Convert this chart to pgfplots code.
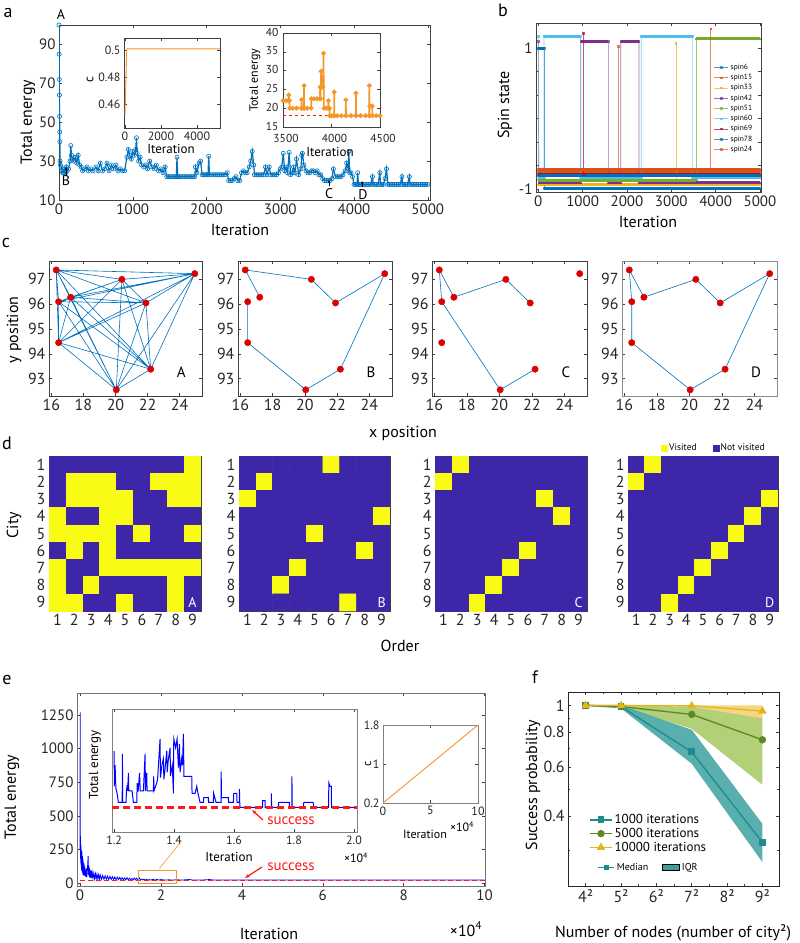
\documentclass[border=0pt]{standalone}
\usepackage{fontspec}
\setmainfont{PT Sans}
\usepackage{pgfplots}
\pgfplotsset{compat=1.18}
\usetikzlibrary{arrows.meta}
\newcommand\fs[1]{\fontsize{#1}{#1}\selectfont}
\definecolor{C1}{rgb}{0,0.447,0.741}
\definecolor{C2}{rgb}{0.85,0.325,0.098}
\definecolor{C3}{rgb}{0.929,0.694,0.125}
\definecolor{C4}{rgb}{0.494,0.184,0.556}
\definecolor{C5}{rgb}{0.466,0.674,0.188}
\definecolor{C6}{rgb}{0.301,0.745,0.933}
\definecolor{C7}{rgb}{0.635,0.078,0.184}
\definecolor{orng}{RGB}{245,150,40}
\definecolor{pdark}{RGB}{62,38,168}
\definecolor{pyel}{RGB}{249,251,20}
\definecolor{mred}{RGB}{220,0,0}
\definecolor{lred}{RGB}{255,25,25}
\definecolor{tealL}{RGB}{30,140,140}
\definecolor{tealF}{RGB}{60,160,160}
\definecolor{oliveL}{RGB}{95,135,35}
\definecolor{greenF}{RGB}{165,200,95}
\definecolor{goldL}{RGB}{228,180,30}
\definecolor{goldF}{RGB}{240,205,100}
\pgfplotsset{
  base/.style={scale only axis, anchor=south west,
    axis line style={black!75, line width=0.6pt},
    tick style={black!75, line width=0.5pt}, tick align=inside,
    major tick length=3pt, minor tick length=1.8pt,
    /pgf/number format/assume math mode=true,
    /pgf/number format/1000 sep={}, scaled ticks=false,
    tick label style={font=\fs{15}, text=black!85}},
  cstyle/.style={base, height=135pt, xmin=15.85, xmax=25.4, ymin=92.3, ymax=97.74,
    xtick={16,18,20,22,24}, ytick={93,94,95,96,97}, tick label style={font=\fs{16}}},
  dstyle/.style={base, height=155pt, xmin=0.5, xmax=9.5, ymin=0.5, ymax=9.5, y dir=reverse,
    xtick={1,...,9}, ytick={1,...,9}, major tick length=0pt, enlargelimits=false,
    colormap={pm}{rgb255=(62,38,168) rgb255=(249,251,20)},
    point meta min=0, point meta max=1, tick label style={font=\fs{16}}},
  cpts/.style={only marks, mark=*, mark size=3.2pt, color=mred},
  cedge/.style={C1, line width=0.6pt},
}
\begin{document}
\begin{tikzpicture}
\path[use as bounding box] (0pt,0pt) rectangle (800pt,-943pt);

% ---------------- panel a ----------------
\begin{axis}[base, at={(59pt,-200pt)}, width=371pt, height=175pt,
  xmin=0, xmax=5030, ymin=10, ymax=100,
  xtick={0,1000,2000,3000,4000,5000}, ytick={10,30,50,70,90}]
\addplot[C1, line width=1.2pt, mark=o, mark size=2.1pt, mark options={line width=0.6pt}] table {
x y
0 100
2 85
4 72
6 64
8 53
10 45
12 40
15 30
20 28
30 27
40 25
50 24
60 24
70 26
80 25
90 24
100 27
110 25
130 26
150 30
160 38
170 33
180 31
200 30
220 32
240 29
260 33
280 28
300 27
320 25
350 26
380 27
400 25
430 26
460 25
500 27
530 25
560 29
590 25
620 26
650 29
680 25
710 28
740 26
770 28
800 25
830 26
860 25
890 25
920 32
940 36
960 33
980 31
1000 35
1020 33
1040 36
1050 42
1060 34
1080 30
1100 32
1120 28
1150 27
1180 28
1200 26
1230 30
1260 27
1290 26
1320 28
1350 25
1380 26
1410 24
1440 27
1460 22
1480 22
1500 22
1525 22
1550 22
1575 22
1590 22
1600 32
1610 22
1630 22
1650 22
1675 22
1700 22
1725 22
1750 22
1775 22
1800 22
1820 22
1840 22
1850 27
1870 24
1900 29
1920 30
1940 23
1960 23
1980 23
2000 23
2020 23
2030 32.5
2040 23
2070 23
2100 23
2125 23
2150 23
2175 23
2200 23
2225 23
2250 23
2280 24
2300 20
2325 20
2350 20
2375 21
2400 22
2425 20
2450 20
2475 24
2500 25
2525 24
2550 24
2580 27
2600 30
2620 35
2640 28
2650 23
2675 23
2700 23
2725 23
2750 23
2775 23
2800 27
2820 23
2850 27
2870 23
2900 23
2925 23
2950 23
2975 24
3000 26
3020 27
3040 34
3060 25
3080 27
3100 24
3120 34.5
3140 23
3160 24
3180 27
3200 24
3220 31
3250 23
3280 26
3290 33
3300 34
3320 28
3350 25
3375 24
3400 24
3425 25
3450 25
3475 24
3500 25
3525 23
3550 23
3575 21
3600 20
3625 20
3650 20
3675 20
3700 21
3720 26
3750 22
3775 22
3800 22
3825 22
3850 23
3880 25
3900 29
3920 26
3930 35
3940 24
3960 24
3980 22
4000 18
4020 18
4040 18
4050 24
4060 18
4080 18
4100 18
4125 18
4150 18
4175 18
4200 18
4225 18
4250 22
4260 18
4280 18
4300 18
4325 18
4350 24
4360 18
4380 18
4400 18
4420 21
4440 26
4460 18
4480 18
4500 18
4525 18
4550 18
4575 18
4600 18
4625 18
4650 22
4660 18
4680 18
4700 18
4725 18
4750 22
4760 18
4780 18
4800 18
4825 18
4850 18
4875 18
4900 18
4925 18
4950 18
4975 18
5000 18
};
\end{axis}

\begin{axis}[base, at={(124pt,-128pt)}, width=96pt, height=90pt,
  xmin=-55, xmax=5280, ymin=0.4425, ymax=0.509,
  xtick={0,2000,4000}, ytick={0.46,0.48,0.5}, yticklabels={0.46,0.48,0.5},
  tick label style={font=\fs{12}}, axis background/.style={fill=white}]
\addplot[orng, line width=0.9pt] coordinates {(0,0.452)(100,0.501)(5280,0.501)};
\end{axis}

\begin{axis}[base, at={(283pt,-127pt)}, width=97pt, height=94pt,
  xmin=3500, xmax=4500, ymin=15, ymax=40,
  xtick={3500,4000,4500}, ytick={15,20,25,30,35,40},
  tick label style={font=\fs{11.5}}, xticklabel style={xshift=3pt, yshift=-4pt},
  yticklabel style={xshift=-1pt, yshift=1pt}, axis background/.style={fill=white}]
\addplot[draw=lred, dashed, line width=0.8pt] coordinates {(3500,18)(4500,18)};
\addplot[orng, line width=1.6pt, mark=*, mark size=1.5pt] table {
x y
3500 22
3530 22
3555 22
3560 23.5
3565 22
3570 20
3600 20
3640 20
3690 20
3692 22.3
3694 20
3715 20
3717 26
3719 20
3750 20
3790 20
3792 22.5
3820 22.5
3850 22.5
3880 22.5
3883 25.6
3886 22.5
3893 29.8
3896 25.6
3912 25.6
3918 34.6
3922 20
3945 20
3965 20
3968 22
3971 20
3980 20
3982 18
4000 18
4026 18
4028 24.3
4030 18
4060 18
4100 18
4146 18
4148 22.2
4150 18
4200 18
4250 18
4252 24
4254 18
4300 18
4350 18
4388 18
4390 26
4392 18
4395 20.6
4420 20.6
4422 18
4460 18
4500 18
};
\end{axis}

% ---------------- panel b ----------------
\begin{axis}[base, at={(536pt,-192pt)}, width=225pt, height=169pt,
  xmin=-52, xmax=5023, ymin=-1.04, ymax=1.355,
  xtick={0,1000,2000,3000,4000,5000},
  ytick={-1,-0.6667,-0.3333,0,0.3333,0.6667,1}, yticklabels={-1,,,,,,1},
  legend style={draw=none, fill=none, font=\fs{7.5}, at={(0.79,0.77)}, anchor=north west,
    inner sep=0pt, row sep=-0.6pt, cells={anchor=west}},
  legend image code/.code={\draw[mark repeat=2,mark phase=2,#1] plot coordinates {(0pt,0pt)(7pt,0pt)(14pt,0pt)};}]
\addplot[C1, line width=0.7pt, mark=square*, mark size=0.8pt, opacity=0.7] coordinates {(0,1)(130,1)(130,-0.99)(5000,-0.99)};
\addlegendentry{spin6}
\addplot[C1, line width=3pt, forget plot, unbounded coords=jump] coordinates {(0,1)(130,1)(nan,nan)(130,-0.99)(5000,-0.99)};
\addplot[C2, line width=0.7pt, mark=square*, mark size=0.8pt, opacity=0.7] coordinates {(0,-0.75)(1812,-0.75)(1812,1.02)(1812,-0.75)(5000,-0.75)};
\addlegendentry{spin15}
\addplot[C2, line width=3pt, forget plot] coordinates {(0,-0.75)(5000,-0.75)};
\addplot[C3, line width=0.7pt, mark=square*, mark size=0.8pt, opacity=0.7] coordinates {(0,-0.94)(3105,-0.94)(3105,1.07)(3105,-0.94)(5000,-0.94)};
\addlegendentry{spin33}
\addplot[C3, line width=3pt, forget plot] coordinates {(0,-0.94)(5000,-0.94)};
\addplot[C4, line width=0.7pt, mark=square*, mark size=0.8pt, opacity=0.7] coordinates {(0,1.095)(10,-0.91)(960,-0.91)(960,1.095)(1580,1.095)(1580,-0.91)(1860,-0.91)(1860,1.095)(2270,1.095)(2270,-0.91)(5000,-0.91)};
\addlegendentry{spin42}
\addplot[C4, line width=3pt, forget plot, unbounded coords=jump] coordinates {(0,-0.91)(960,-0.91)(nan,nan)(960,1.095)(1580,1.095)(nan,nan)(1580,-0.91)(1860,-0.91)(nan,nan)(1860,1.095)(2270,1.095)(nan,nan)(2270,-0.91)(5000,-0.91)};
\addplot[C5, line width=0.7pt, mark=square*, mark size=0.8pt, opacity=0.7] coordinates {(0,-0.87)(3560,-0.87)(3560,1.13)(5000,1.13)};
\addlegendentry{spin51}
\addplot[C5, line width=3pt, forget plot, unbounded coords=jump] coordinates {(0,-0.87)(3560,-0.87)(nan,nan)(3560,1.13)(5000,1.13)};
\addplot[C6, line width=0.7pt, mark=square*, mark size=0.8pt, opacity=0.7] coordinates {(0,1.17)(10,-0.84)(130,-0.84)(130,1.17)(950,1.17)(950,-0.84)(2320,-0.84)(2320,1.17)(3480,1.17)(3480,-0.84)(5000,-0.84)};
\addlegendentry{spin60}
\addplot[C6, line width=3pt, forget plot, unbounded coords=jump] coordinates {(0,-0.84)(130,-0.84)(nan,nan)(130,1.17)(950,1.17)(nan,nan)(950,-0.84)(2320,-0.84)(nan,nan)(2320,1.17)(3480,1.17)(nan,nan)(3480,-0.84)(5000,-0.84)};
\addplot[C7, line width=0.7pt, mark=square*, mark size=0.8pt, opacity=0.7] coordinates {(0,-0.79)(1015,-0.79)(1015,1.21)(1015,-0.79)(5000,-0.79)};
\addlegendentry{spin69}
\addplot[C7, line width=3pt, forget plot] coordinates {(0,-0.79)(5000,-0.79)};
\addplot[C1, line width=0.7pt, mark=square*, mark size=0.8pt, opacity=0.7] coordinates {(0,-0.81)(5000,-0.81)};
\addlegendentry{spin78}
\addplot[C1, line width=3pt, forget plot] coordinates {(0,-0.81)(5000,-0.81)};
\addplot[C2, line width=0.7pt, mark=square*, mark size=0.8pt, opacity=0.7] coordinates {(0,-0.72)(3890,-0.72)(3890,1.27)(3890,-0.72)(5000,-0.72)};
\addlegendentry{spin24}
\addplot[C2, line width=3pt, forget plot] coordinates {(0,-0.72)(5000,-0.72)};
\end{axis}

% ---------------- panel c ----------------
\begin{axis}[cstyle, at={(49pt,-396pt)}, width=153pt]
\addplot[cedge] coordinates {(20.05,92.55)(16.3,97.38)(16.45,96.1)(22.2,93.38)(16.45,94.45)(24.95,97.23)(17.2,96.28)(21.9,96.05)(20.4,97.0)(20.05,92.55)(16.45,96.1)(16.45,94.45)(16.3,97.38)(17.2,96.28)(22.2,93.38)(20.4,97.0)(24.95,97.23)(21.9,96.05)(20.05,92.55)(16.45,94.45)(17.2,96.28)(16.45,96.1)(20.4,97.0)(16.3,97.38)(21.9,96.05)(22.2,93.38)(24.95,97.23)(20.05,92.55)(17.2,96.28)(20.4,97.0)(16.45,94.45)(21.9,96.05)(16.45,96.1)(24.95,97.23)(16.3,97.38)(22.2,93.38)(20.05,92.55)};
\addplot[cpts] coordinates {(16.3,97.38)(16.45,96.1)(16.45,94.45)(17.2,96.28)(20.4,97.0)(21.9,96.05)(24.95,97.23)(22.2,93.38)(20.05,92.55)};
\node[font=\fs{15}] at (axis cs:24.1,93.25) {A};
\end{axis}
\begin{axis}[cstyle, at={(238pt,-396pt)}, width=154pt]
\addplot[cedge] coordinates {(17.2,96.28)(16.3,97.38)(20.4,97.0)(21.9,96.05)(24.95,97.23)(22.2,93.38)(20.05,92.55)(16.45,94.45)(16.45,96.1)};
\addplot[cpts] coordinates {(16.3,97.38)(16.45,96.1)(16.45,94.45)(17.2,96.28)(20.4,97.0)(21.9,96.05)(24.95,97.23)(22.2,93.38)(20.05,92.55)};
\node[font=\fs{15}] at (axis cs:24.1,93.25) {B};
\end{axis}
\begin{axis}[cstyle, at={(432pt,-396pt)}, width=155pt]
\addplot[cedge] coordinates {(21.9,96.05)(20.4,97.0)(17.2,96.28)(16.3,97.38)(16.45,96.1)(20.05,92.55)(22.2,93.38)};
\addplot[cpts] coordinates {(16.3,97.38)(16.45,96.1)(16.45,94.45)(17.2,96.28)(20.4,97.0)(21.9,96.05)(24.95,97.23)(22.2,93.38)(20.05,92.55)};
\node[font=\fs{15}] at (axis cs:24.1,93.25) {C};
\end{axis}
\begin{axis}[cstyle, at={(622pt,-396pt)}, width=155pt, axis line style={black!45, line width=1pt}]
\addplot[cedge] coordinates {(16.3,97.38)(17.2,96.28)(20.4,97.0)(21.9,96.05)(24.95,97.23)(22.2,93.38)(20.05,92.55)(16.45,94.45)(16.45,96.1)(16.3,97.38)};
\addplot[cpts] coordinates {(16.3,97.38)(16.45,96.1)(16.45,94.45)(17.2,96.28)(20.4,97.0)(21.9,96.05)(24.95,97.23)(22.2,93.38)(20.05,92.55)};
\node[font=\fs{15}] at (axis cs:24.1,93.25) {D};
\end{axis}

% ---------------- panel d ----------------
\begin{axis}[dstyle, at={(49pt,-611pt)}, width=152pt]
\addplot[matrix plot*, mesh/cols=9, point meta=explicit] table[meta=c, row sep=\\] {
x y c\\
1 1 0\\ 2 1 0\\ 3 1 0\\ 4 1 0\\ 5 1 0\\ 6 1 0\\ 7 1 0\\ 8 1 0\\ 9 1 1\\
1 2 0\\ 2 2 1\\ 3 2 1\\ 4 2 1\\ 5 2 0\\ 6 2 0\\ 7 2 1\\ 8 2 1\\ 9 2 1\\
1 3 0\\ 2 3 1\\ 3 3 1\\ 4 3 1\\ 5 3 1\\ 6 3 0\\ 7 3 0\\ 8 3 1\\ 9 3 1\\
1 4 1\\ 2 4 0\\ 3 4 0\\ 4 4 1\\ 5 4 1\\ 6 4 0\\ 7 4 0\\ 8 4 0\\ 9 4 0\\
1 5 1\\ 2 5 1\\ 3 5 1\\ 4 5 1\\ 5 5 0\\ 6 5 1\\ 7 5 0\\ 8 5 0\\ 9 5 1\\
1 6 0\\ 2 6 1\\ 3 6 0\\ 4 6 1\\ 5 6 0\\ 6 6 0\\ 7 6 0\\ 8 6 0\\ 9 6 0\\
1 7 1\\ 2 7 0\\ 3 7 0\\ 4 7 1\\ 5 7 1\\ 6 7 1\\ 7 7 1\\ 8 7 1\\ 9 7 1\\
1 8 1\\ 2 8 0\\ 3 8 1\\ 4 8 0\\ 5 8 0\\ 6 8 0\\ 7 8 0\\ 8 8 1\\ 9 8 0\\
1 9 1\\ 2 9 1\\ 3 9 0\\ 4 9 0\\ 5 9 1\\ 6 9 0\\ 7 9 0\\ 8 9 1\\ 9 9 0\\
};
\node[font=\fs{14}, text=white] at (axis cs:9,9) {A};
\end{axis}
\begin{axis}[dstyle, at={(239pt,-611pt)}, width=151pt]
\addplot[matrix plot*, mesh/cols=9, point meta=explicit] table[meta=c, row sep=\\] {
x y c\\
1 1 0\\ 2 1 0\\ 3 1 0\\ 4 1 0\\ 5 1 0\\ 6 1 1\\ 7 1 0\\ 8 1 0\\ 9 1 0\\
1 2 0\\ 2 2 1\\ 3 2 0\\ 4 2 0\\ 5 2 0\\ 6 2 0\\ 7 2 0\\ 8 2 0\\ 9 2 0\\
1 3 1\\ 2 3 0\\ 3 3 0\\ 4 3 0\\ 5 3 0\\ 6 3 0\\ 7 3 0\\ 8 3 0\\ 9 3 0\\
1 4 0\\ 2 4 0\\ 3 4 0\\ 4 4 0\\ 5 4 0\\ 6 4 0\\ 7 4 0\\ 8 4 0\\ 9 4 1\\
1 5 0\\ 2 5 0\\ 3 5 0\\ 4 5 0\\ 5 5 1\\ 6 5 0\\ 7 5 0\\ 8 5 0\\ 9 5 0\\
1 6 0\\ 2 6 0\\ 3 6 0\\ 4 6 0\\ 5 6 0\\ 6 6 0\\ 7 6 0\\ 8 6 1\\ 9 6 0\\
1 7 0\\ 2 7 0\\ 3 7 0\\ 4 7 1\\ 5 7 0\\ 6 7 0\\ 7 7 0\\ 8 7 0\\ 9 7 0\\
1 8 0\\ 2 8 0\\ 3 8 1\\ 4 8 0\\ 5 8 0\\ 6 8 0\\ 7 8 0\\ 8 8 0\\ 9 8 0\\
1 9 0\\ 2 9 0\\ 3 9 0\\ 4 9 0\\ 5 9 0\\ 6 9 0\\ 7 9 1\\ 8 9 0\\ 9 9 0\\
};
\node[font=\fs{14}, text=white] at (axis cs:9,9) {B};
\end{axis}
\begin{axis}[dstyle, at={(435pt,-611pt)}, width=152pt]
\addplot[matrix plot*, mesh/cols=9, point meta=explicit] table[meta=c, row sep=\\] {
x y c\\
1 1 0\\ 2 1 1\\ 3 1 0\\ 4 1 0\\ 5 1 0\\ 6 1 0\\ 7 1 0\\ 8 1 0\\ 9 1 0\\
1 2 1\\ 2 2 0\\ 3 2 0\\ 4 2 0\\ 5 2 0\\ 6 2 0\\ 7 2 0\\ 8 2 0\\ 9 2 0\\
1 3 0\\ 2 3 0\\ 3 3 0\\ 4 3 0\\ 5 3 0\\ 6 3 0\\ 7 3 1\\ 8 3 0\\ 9 3 0\\
1 4 0\\ 2 4 0\\ 3 4 0\\ 4 4 0\\ 5 4 0\\ 6 4 0\\ 7 4 0\\ 8 4 1\\ 9 4 0\\
1 5 0\\ 2 5 0\\ 3 5 0\\ 4 5 0\\ 5 5 0\\ 6 5 0\\ 7 5 0\\ 8 5 0\\ 9 5 0\\
1 6 0\\ 2 6 0\\ 3 6 0\\ 4 6 0\\ 5 6 0\\ 6 6 1\\ 7 6 0\\ 8 6 0\\ 9 6 0\\
1 7 0\\ 2 7 0\\ 3 7 0\\ 4 7 0\\ 5 7 1\\ 6 7 0\\ 7 7 0\\ 8 7 0\\ 9 7 0\\
1 8 0\\ 2 8 0\\ 3 8 0\\ 4 8 1\\ 5 8 0\\ 6 8 0\\ 7 8 0\\ 8 8 0\\ 9 8 0\\
1 9 0\\ 2 9 0\\ 3 9 1\\ 4 9 0\\ 5 9 0\\ 6 9 0\\ 7 9 0\\ 8 9 0\\ 9 9 0\\
};
\node[font=\fs{14}, text=white] at (axis cs:9,9) {C};
\end{axis}
\begin{axis}[dstyle, at={(628pt,-611pt)}, width=150pt]
\addplot[matrix plot*, mesh/cols=9, point meta=explicit] table[meta=c, row sep=\\] {
x y c\\
1 1 0\\ 2 1 1\\ 3 1 0\\ 4 1 0\\ 5 1 0\\ 6 1 0\\ 7 1 0\\ 8 1 0\\ 9 1 0\\
1 2 1\\ 2 2 0\\ 3 2 0\\ 4 2 0\\ 5 2 0\\ 6 2 0\\ 7 2 0\\ 8 2 0\\ 9 2 0\\
1 3 0\\ 2 3 0\\ 3 3 0\\ 4 3 0\\ 5 3 0\\ 6 3 0\\ 7 3 0\\ 8 3 0\\ 9 3 1\\
1 4 0\\ 2 4 0\\ 3 4 0\\ 4 4 0\\ 5 4 0\\ 6 4 0\\ 7 4 0\\ 8 4 1\\ 9 4 0\\
1 5 0\\ 2 5 0\\ 3 5 0\\ 4 5 0\\ 5 5 0\\ 6 5 0\\ 7 5 1\\ 8 5 0\\ 9 5 0\\
1 6 0\\ 2 6 0\\ 3 6 0\\ 4 6 0\\ 5 6 0\\ 6 6 1\\ 7 6 0\\ 8 6 0\\ 9 6 0\\
1 7 0\\ 2 7 0\\ 3 7 0\\ 4 7 0\\ 5 7 1\\ 6 7 0\\ 7 7 0\\ 8 7 0\\ 9 7 0\\
1 8 0\\ 2 8 0\\ 3 8 0\\ 4 8 1\\ 5 8 0\\ 6 8 0\\ 7 8 0\\ 8 8 0\\ 9 8 0\\
1 9 0\\ 2 9 0\\ 3 9 1\\ 4 9 0\\ 5 9 0\\ 6 9 0\\ 7 9 0\\ 8 9 0\\ 9 9 0\\
};
\node[font=\fs{14}, text=white] at (axis cs:9,9) {D};
\end{axis}
\begin{axis}[at={(628pt,-611pt)}, anchor=south west, scale only axis, width=150pt, height=155pt,
  hide axis, xmin=0, xmax=1, ymin=0, ymax=1, legend columns=2,
  legend style={draw=none, fill=none, font=\fs{9.5}, at={(0.2,1.052)}, anchor=west,
    /tikz/every even column/.append style={column sep=14pt}}]
\addlegendimage{only marks, mark=square*, mark size=3pt, color=pyel}
\addlegendentry{Visited}
\addlegendimage{only marks, mark=square*, mark size=3pt, color=pdark}
\addlegendentry{Not visited}
\end{axis}

% ---------------- panel e ----------------
\begin{axis}[base, at={(77pt,-886pt)}, width=408pt, height=193pt,
  xmin=-750, xmax=100100, ymin=-22, ymax=1414,
  xtick={0,20000,40000,60000,80000,100000}, xticklabels={0,2,4,6,8,10},
  ytick={0,250,500,750,1000,1250}, axis line style={black!55}]
\addplot[blue, line width=0.8pt] table {
x y
0 250
40 1270
80 300
120 180
160 290
200 150
240 280
280 120
320 250
360 100
400 240
450 90
500 230
550 80
600 200
650 70
700 180
750 60
800 160
850 60
900 150
950 55
1000 140
1100 60
1200 120
1300 50
1400 100
1500 45
1600 110
1700 45
1800 90
1900 140
2000 200
2100 60
2200 130
2300 45
2400 110
2500 40
2600 95
2700 35
2800 90
2900 40
3000 80
3200 35
3400 75
3600 32
3800 70
4000 30
4200 68
4400 30
4600 62
4800 28
5000 60
5300 28
5600 58
5900 27
6200 55
6500 27
6800 52
7100 26
7400 50
7700 26
8000 48
8300 26
8600 46
8900 25
9200 44
9500 25
9800 42
10100 25
10400 40
10700 24
11000 38
11300 24
11600 40
11900 24
12200 36
12500 24
12800 34
13100 23
13400 38
13700 24
14000 36
14300 24
14600 40
14900 24
15200 30
15500 23
15800 28
16100 22
16400 27
16700 22
17000 26
17500 22
18000 28
18500 22
19000 27
19500 22
20000 26
21000 22
22000 24
23000 22
24000 25
25000 22
26000 24
27000 26
28000 22
30000 22
32000 26
33000 22
36000 22
40000 22
100000 22
};
\addplot[draw=lred, line width=1pt, dash pattern=on 5pt off 3pt] coordinates {(0,22)(100000,22)};
\draw[orng, line width=0.8pt] (axis cs:14400,-2) rectangle (axis cs:23900,92);
\draw[orng, line width=0.6pt] (axis cs:19630,109) -- (axis cs:24750,300);
\end{axis}

\begin{axis}[base, at={(112pt,-832pt)}, width=245pt, height=123pt,
  xmin=11930, xmax=20100, ymin=15, ymax=50,
  xtick={12000,14000,16000,18000,20000}, xticklabels={1.2,1.4,1.6,1.8,2.0},
  ytick=\empty, axis line style={black!50, line width=0.8pt},
  axis background/.style={fill=white}, tick label style={font=\fs{12}}]
\addplot[blue, line width=1pt] table {
x y
12000 38
12010 28
12033 34
12060 27.5
12100 26
12144 23.4
12270 23.4
12278 37.2
12286 23.4
12400 23.4
12410 26.7
12440 28.4
12450 26.7
12478 31.8
12490 26.7
12600 26.7
12644 23.4
12756 23.4
12770 29
12800 26.5
12850 31.8
12870 26.7
12978 26.7
13033 37.2
13045 26.7
13089 31.8
13100 26.7
13311 26.7
13320 30.8
13330 26.7
13422 29
13450 30
13533 41.5
13545 30.5
13600 34.3
13644 35.8
13660 30
13700 33
13756 38.1
13770 32
13800 35
13867 39
13880 31
13940 34
13978 26
13990 41.5
14050 39
14100 41.5
14144 33.3
14180 40
14200 32
14256 36
14280 34
14311 42.9
14330 30.8
14589 30.8
14600 26
14700 26
14756 28
14780 26.7
14867 23.4
14978 23.4
14990 24.8
15144 24.8
15150 23.4
15311 23.4
15320 26
15400 23.4
15567 23.4
15570 32.2
15580 24.8
15811 24.8
15820 23.4
15978 23.4
15990 26
16089 26
16100 23.4
16178 23.4
16180 27.2
16190 23.4
16200 22
16950 22
16955 23.9
17033 23.9
17040 22
17245 22
17247 26
17250 22
17486 22
17490 23.4
17843 23.4
17850 22
17926 22
17930 30.8
17940 22
18319 22
18325 23.4
18640 23.4
18645 22
19153 22
19160 29
19200 28
19247 28
19250 22
20000 22
};
\addplot[draw=lred, line width=2.4pt, dash pattern=on 7pt off 4pt] coordinates {(11930,22)(20100,22)};
\end{axis}

\begin{axis}[base, at={(383pt,-803pt)}, width=95pt, height=78pt,
  xmin=0, xmax=100000, ymin=0.2, ymax=1.8,
  xtick={0,50000,100000}, xticklabels={0,5,10},
  ytick={0.2,1,1.8}, yticklabels={0.2,1,1.8},
  tick label style={font=\fs{12}}, axis background/.style={fill=white},
  axis line style={black!50, line width=0.9pt}]
\addplot[orng, line width=0.9pt] coordinates {(0,0.2)(100000,1.8)};
\end{axis}

% ---------------- panel f ----------------
\begin{axis}[base, at={(568pt,-886pt)}, width=211pt, height=194pt,
  xmin=3.5, xmax=9.47, ymode=log, ymin=0.224, ymax=1.117,
  xtick={4,5,6,7,8,9}, xticklabels={4²,5²,6²,7²,8²,9²},
  minor xtick={4.5,5.5,6.5,7.5,8.5},
  ytick={0.4,0.6,0.8,1}, yticklabels={0.4,0.6,0.8,1},
  minor ytick={0.3,0.5,0.7,0.9}, tick label style={font=\fs{16}},
  axis line style={black!85},
  legend style={draw=none, fill=none, font=\fs{13}, at={(0.1,0.38)}, anchor=north west,
    inner sep=0pt, row sep=-1pt, cells={anchor=west}},
  legend image code/.code={\draw[mark repeat=2,mark phase=2,#1] plot coordinates {(0pt,0pt)(11pt,0pt)(22pt,0pt)};}]
\addplot[fill=greenF, draw=none, fill opacity=0.85, forget plot] coordinates {(4,1.0)(5,1.0)(7,0.99)(9,0.9)(9,0.518)(7,0.824)(5,0.985)(4,1.0)} -- cycle;
\addplot[fill=tealF, draw=none, fill opacity=0.85, forget plot] coordinates {(4,1.0)(5,1.0)(7,0.817)(9,0.375)(9,0.273)(7,0.617)(5,0.975)(4,0.995)} -- cycle;
\addplot[fill=goldF, draw=none, fill opacity=0.8, forget plot] coordinates {(4,1.0)(5,1.0)(7,1.0)(9,1.0)(9,0.895)(7,0.99)(5,1.0)(4,1.0)} -- cycle;
\addplot[tealL, line width=1.3pt, mark=square*, mark size=2.8pt] coordinates {(4,1)(5,0.99)(7,0.68)(9,0.322)};
\addlegendentry{1000 iterations}
\addplot[oliveL, line width=1.3pt, mark=*, mark size=3pt] coordinates {(4,1)(5,0.99)(7,0.928)(9,0.752)};
\addlegendentry{5000 iterations}
\addplot[goldL, line width=1.3pt, mark=triangle*, mark size=3.6pt] coordinates {(4,1)(5,1)(7,0.997)(9,0.954)};
\addlegendentry{10000 iterations}
\end{axis}
\begin{axis}[at={(568pt,-886pt)}, anchor=south west, scale only axis, width=211pt, height=194pt,
  hide axis, xmin=0, xmax=1, ymin=0, ymax=1, legend columns=2,
  legend style={draw=none, fill=none, font=\fs{10}, at={(0.14,0.13)}, anchor=north west,
    inner sep=0pt, /tikz/every even column/.append style={column sep=12pt}},
  legend image code/.code={\draw[mark repeat=2,mark phase=2,#1] plot coordinates {(0pt,0pt)(8pt,0pt)(16pt,0pt)};}]
\addlegendimage{tealL, line width=1.2pt, mark=square*, mark size=2.2pt}
\addlegendentry{Median}
\addlegendimage{area legend, fill=tealF, draw=none}
\addlegendentry{IQR}
\end{axis}

% ---------------- text ----------------
\node[font=\fs{18}] at (8pt,-13pt) {a};
\node[font=\fs{18}] at (503pt,-10pt) {b};
\node[font=\fs{18}] at (6pt,-243pt) {c};
\node[font=\fs{18}] at (7pt,-443pt) {d};
\node[font=\fs{18}] at (7pt,-680pt) {e};
\node[font=\fs{18}] at (535pt,-677pt) {f};

\node[font=\fs{16}, rotate=90] at (28pt,-122pt) {Total energy};
\node[font=\fs{16}] at (240pt,-230pt) {Iteration};
\node[font=\fs{14}] at (61pt,-15pt) {A};
\draw[-{Stealth[length=3pt]}, line width=0.5pt] (66pt,-176pt) -- (66pt,-167pt);
\node[font=\fs{14}] at (66pt,-181pt) {B};
\draw[-{Stealth[length=3pt]}, line width=0.5pt] (329pt,-186pt) -- (329pt,-180pt);
\node[font=\fs{14}] at (329pt,-194pt) {C};
\draw[-{Stealth[length=3pt]}, line width=0.5pt] (362pt,-187pt) -- (362pt,-181pt);
\node[font=\fs{14}] at (363pt,-195pt) {D};
\node[font=\fs{13}, rotate=90] at (90pt,-80pt) {c};
\node[font=\fs{13}] at (171pt,-149pt) {Iteration};
\node[font=\fs{12}, rotate=90] at (255pt,-80pt) {Total energy};
\node[font=\fs{13}] at (330pt,-152pt) {Iteration};

\node[font=\fs{16}, rotate=90] at (505pt,-105pt) {Spin state};
\node[font=\fs{16}] at (648pt,-222pt) {Iteration};

\node[font=\fs{16}, rotate=90] at (14pt,-330pt) {y position};
\node[font=\fs{16}] at (403pt,-433pt) {x position};
\node[font=\fs{16}, rotate=90] at (14pt,-525pt) {City};
\node[font=\fs{16}] at (400pt,-646pt) {Order};

\node[font=\fs{16}, rotate=90] at (12pt,-797pt) {Total energy};
\node[font=\fs{16}] at (269pt,-934pt) {Iteration};
\node[font=\fs{16}] at (466pt,-929pt) {×10\textsuperscript{4}};
\node[font=\fs{13}, rotate=90] at (95pt,-765pt) {Total energy};
\node[font=\fs{13}] at (229pt,-857pt) {Iteration};
\node[font=\fs{12}] at (356pt,-858pt) {×10\textsuperscript{4}};
\node[font=\fs{15}, text=lred] at (291pt,-821pt) {success};
\draw[lred, line width=1.2pt, -{Stealth[length=5pt]}] (263pt,-820pt) -- (252pt,-810pt);
\node[font=\fs{15}, text=lred] at (291pt,-867pt) {success};
\draw[lred, line width=1.2pt, -{Stealth[length=5pt]}] (262pt,-867pt) -- (245pt,-878pt);
\node[font=\fs{12}, rotate=90] at (368pt,-764pt) {c};
\node[font=\fs{12}] at (425pt,-834pt) {Iteration};
\node[font=\fs{12}] at (462pt,-827pt) {×10\textsuperscript{4}};

\node[font=\fs{16}, rotate=90] at (533pt,-785pt) {Success probability};
\node[font=\fs{16}] at (673pt,-933pt) {Number of nodes (number of city²)};
\end{tikzpicture}
\end{document}
